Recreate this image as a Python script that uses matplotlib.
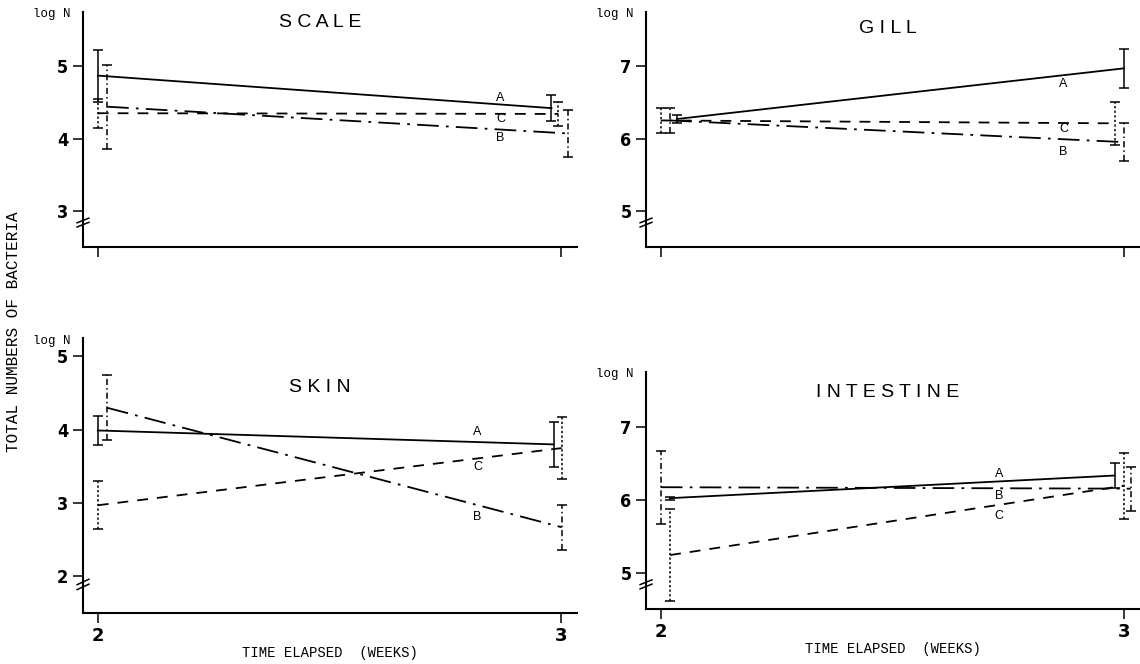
import matplotlib.pyplot as plt
import numpy as np

weeks = [2, 3]
groups = ['A', 'B', 'C']

# log N values (week 2, week 3)
scale_mean = {'A': [4.87, 4.42], 'B': [4.44, 4.07], 'C': [4.35, 4.34]}
scale_err = {'A': [0.36, 0.18], 'B': [0.58, 0.33], 'C': [0.20, 0.17]}

gill_mean = {'A': [6.27, 6.97], 'B': [6.25, 5.95], 'C': [6.25, 6.21]}
gill_err = {'A': [0.05, 0.27], 'B': [0.17, 0.26], 'C': [0.17, 0.30]}

skin_mean = {'A': [3.99, 3.80], 'B': [4.30, 2.67], 'C': [2.97, 3.75]}
skin_err = {'A': [0.20, 0.31], 'B': [0.44, 0.31], 'C': [0.33, 0.42]}

intestine_mean = {'A': [6.02, 6.33], 'B': [6.17, 6.15], 'C': [5.24, 6.19]}
intestine_err = {'A': [0.02, 0.17], 'B': [0.50, 0.30], 'C': [0.63, 0.45]}

line_styles = {'A': '-', 'B': (0, (12, 4, 1.5, 4)), 'C': (0, (6, 5))}
bar_styles = {'A': '-', 'B': (0, (4, 2, 1, 2)), 'C': (0, (1.5, 1.5))}

mono = 'Liberation Mono'
narrow = ['Liberation Sans Narrow', 'DejaVu Sans']

panels = [
    # title, means, errs, rect, ylim, yticks, title pos, x-offsets, label x, label dy, xlabels
    ('S C A L E', scale_mean, scale_err,
     [0.0728, 0.628, 0.4333, 0.354], (2.5, 5.75), [3, 4, 5], (0.48, 0.955),
     {'A': (0, -0.02), 'B': (0.02, 0.015), 'C': (0, -0.005)},
     2.87, {'A': 0.09, 'B': -0.12, 'C': -0.07}, False),
    ('G I L L', gill_mean, gill_err,
     [0.5667, 0.628, 0.4333, 0.354], (4.5, 7.75), [5, 6, 7], (0.49, 0.93),
     {'A': (0.035, 0), 'B': (0.02, 0), 'C': (0, -0.02)},
     2.87, {'A': -0.12, 'B': -0.17, 'C': -0.08}, False),
    ('S K I N', skin_mean, skin_err,
     [0.0728, 0.0768, 0.4333, 0.414], (1.5, 5.25), [2, 3, 4, 5], (0.48, 0.82),
     {'A': (0, -0.015), 'B': (0.02, 0.002), 'C': (0, 0.002)},
     2.82, {'A': 0.14, 'B': -0.16, 'C': -0.12}, True),
    ('I N T E S T I N E', intestine_mean, intestine_err,
     [0.5667, 0.0828, 0.4333, 0.357], (4.5, 7.75), [5, 6, 7], (0.49, 0.915),
     {'A': (0.02, -0.02), 'B': (0, 0.015), 'C': (0.02, 0)},
     2.73, {'A': 0.10, 'B': -0.11, 'C': -0.15}, True),
]

fig = plt.figure(figsize=(11.4, 6.64), dpi=100)

for title, means, errs, rect, ylim, yticks, tpos, offs, lab_x, lab_dy, show_x in panels:
    ax = fig.add_axes(rect)
    for g in groups:
        xs = [weeks[0] + offs[g][0], weeks[1] + offs[g][1]]
        ax.plot(xs, means[g], color='black', lw=1.3, linestyle=line_styles[g])
        eb = ax.errorbar(xs, means[g], yerr=errs[g], fmt='none', ecolor='black',
                         elinewidth=1.1, capsize=3.5, capthick=1.1)
        eb[2][0].set_linestyle(bar_styles[g])
        ly = np.interp(lab_x, xs, means[g]) + lab_dy[g]
        ax.text(lab_x, ly, g, ha='center', va='center', fontsize=9,
                family='Liberation Sans')

    ax.set_xlim(1.968, 3.035)
    ax.set_ylim(*ylim)
    ax.set_xticks(weeks)
    ax.set_yticks(yticks)
    ax.set_yticks(np.arange(ylim[0] + 0.5, ylim[1], 1.0), minor=True)
    ax.tick_params(axis='both', which='major', direction='out', length=7, width=1.1)
    ax.tick_params(axis='y', which='minor', direction='out', length=4, width=1)
    ax.tick_params(axis='x', pad=3)
    for lab in ax.get_yticklabels():
        lab.set_family(narrow)
        lab.set_fontweight('bold')
        lab.set_fontsize(13)
        lab.set_fontstretch('condensed')
    if show_x:
        for lab in ax.get_xticklabels():
            lab.set_family(narrow)
            lab.set_fontweight('bold')
            lab.set_fontsize(13)
        ax.set_xlabel('TIME ELAPSED  (WEEKS)', family=mono, fontsize=10, labelpad=1)
    else:
        ax.set_xticklabels([])

    for side in ('top', 'right'):
        ax.spines[side].set_visible(False)
    for side in ('left', 'bottom'):
        ax.spines[side].set_linewidth(1.5)

    ax.text(*tpos, title, transform=ax.transAxes, ha='center', va='center',
            fontsize=14, family='Liberation Sans')
    ax.text(-0.025, 0.99, 'log N', transform=ax.transAxes, ha='right', va='center',
            fontsize=9, family=mono)

    # axis break marks near the bottom of the y axis
    for dy in (0.0, 0.018):
        ax.plot([-0.012, 0.012], [0.085 + dy, 0.105 + dy], transform=ax.transAxes,
                color='black', lw=1.1, clip_on=False)

fig.text(0.012, 0.5, 'TOTAL NUMBERS OF BACTERIA', rotation=90, ha='center',
         va='center', family=mono, fontsize=11.5)

fig.savefig('out.png', dpi=100, facecolor='white')
